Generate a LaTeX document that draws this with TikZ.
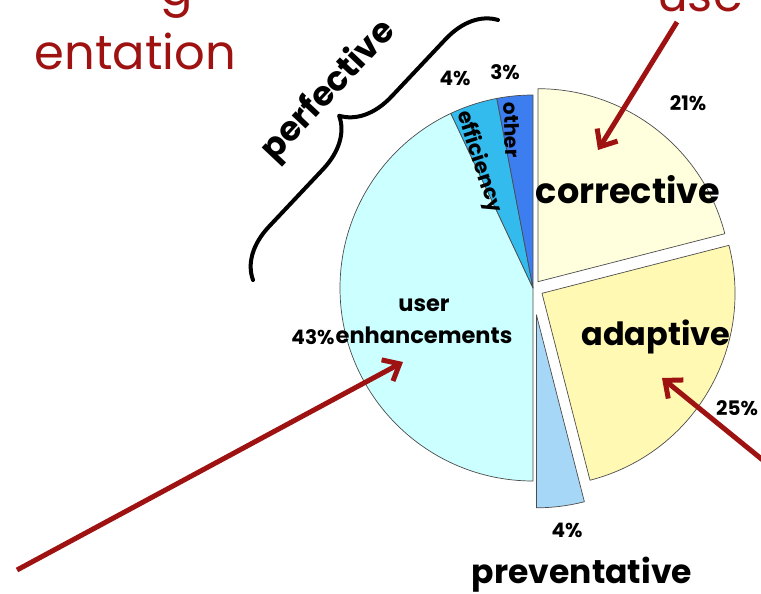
\documentclass[tikz,border=0pt]{standalone}
\usepackage{fontspec}
\setmainfont{Poppins}
\usetikzlibrary{arrows.meta,decorations.pathreplacing}

\definecolor{corrFill}{HTML}{FFFFDD}
\definecolor{adapFill}{HTML}{FFF9B3}
\definecolor{prevFill}{HTML}{A7D7F7}
\definecolor{userFill}{HTML}{CCFFFF}
\definecolor{effFill}{HTML}{33BBEE}
\definecolor{othFill}{HTML}{3C7DF0}
\definecolor{inkRed}{HTML}{9E1212}

% one pie wedge: apex, start angle, end angle, fill colour
\newcommand\piewedge[4]{%
  \draw[wedge,fill=#4] (#1) -- ++(#2:193) arc[start angle=#2,end angle=#3,radius=193] -- cycle;}

\begin{document}
\begin{tikzpicture}[x=1pt,y=-1pt,
  wedge/.style={draw=black!70,line width=0.7pt,line join=round},
  pct/.style={font=\fontsize{20}{22}\selectfont\bfseries,text=black,inner sep=0pt},
  biglabel/.style={font=\fontsize{33}{36}\selectfont\bfseries,text=black,inner sep=0pt},
  midlabel/.style={font=\fontsize{22.5}{32}\selectfont\bfseries,text=black,inner sep=0pt,align=center},
  smalllabel/.style={font=\fontsize{20}{22}\selectfont\bfseries,text=black,inner sep=0pt},
  hand/.style={font=\fontsize{48}{52}\selectfont,text=inkRed,inner sep=0pt},
  redarrow/.style={draw=inkRed,line width=5pt,-{Straight Barb[length=14pt,width=24pt]}},
  bracepen/.style={draw=black,line width=4pt,line cap=round,line join=round,
    decorate,decoration={brace,amplitude=50pt}}]
\useasboundingbox (0,0) rectangle (761,594);

% pie slices (angles measured with the y axis pointing down)
\piewedge{536.4,314.8}{75.6}{90}{prevFill}
\piewedge{537.9,281.7}{-90}{-14.4}{corrFill}
\piewedge{542,293.3}{-14.4}{75.6}{adapFill}
\piewedge{533,288}{90}{244.8}{userFill}
\piewedge{533,288}{-115.2}{-100.8}{effFill}
\piewedge{533,288}{-100.8}{-90}{othFill}

% percentages
\node[pct] (pCorr) at (688,103) {21\%};
\node[pct] (pAdap) at (737,408) {25\%};
\node[pct] (pPrev) at (567,530) {4\%};
\node[pct] (pUser) at (313,337) {43\%};
\node[pct] (pEff)  at (455,78)  {4\%};
\node[pct] (pOth)  at (505,72)  {3\%};

% slice names
\node[biglabel,font=\fontsize{35}{38}\selectfont\bfseries] (lCorr) at (628,190) {corrective};
\node[biglabel,font=\fontsize{32}{36}\selectfont\bfseries] (lAdap) at (656,337) {adaptive};
\node[biglabel] (lPrev) at (582,575) {preventative};
\node[midlabel] (lUser) at (424,321) {user\\enhancements};
\node[smalllabel,font=\fontsize{21}{22}\selectfont\bfseries,rotate=-72] (lEff) at (479,162) {efficiency};
\node[smalllabel,rotate=-88] (lOth) at (512,130) {other};

% perfective brace
\coordinate (braceA) at (253,280);
\coordinate (braceB) at (498,20);
\draw[bracepen] (braceA) -- (braceB);
\node[biglabel,font=\fontsize{34}{36}\selectfont\bfseries,rotate=46.7] (lPerf) at (329,91) {perfective};

% handwritten notes
\node[hand,anchor=base east] (wordTop) at (193,6) {g};
\node[hand,anchor=base east] (wordDoc) at (236,70) {entation};
\node[hand,anchor=base] (wordUse) at (700,12) {use};

% arrows
\coordinate (useTail) at (677,22);
\coordinate (corrTip) at (598,150);
\coordinate (rightTail) at (775,470);
\coordinate (adapTip) at (662,378);
\coordinate (leftTail) at (17,570);
\coordinate (userTip) at (403,362);
\draw[redarrow] (useTail) -- (corrTip);
\draw[redarrow] (rightTail) -- (adapTip);
\draw[redarrow] (leftTail) -- (userTip);
\end{tikzpicture}
\end{document}
